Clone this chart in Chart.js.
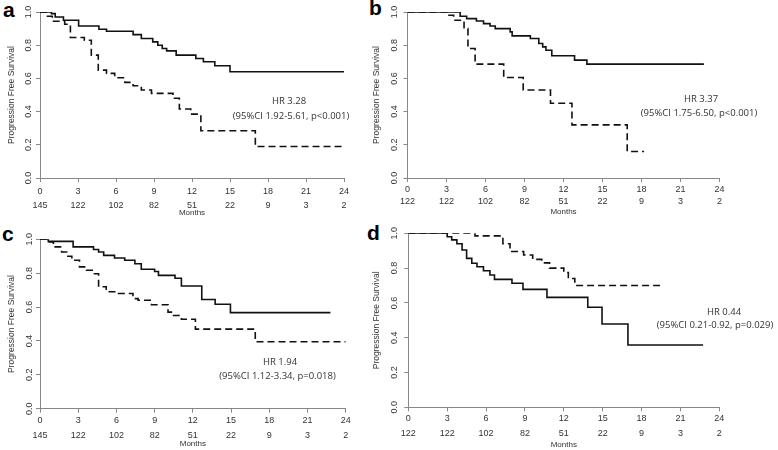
<!DOCTYPE html>
<html><head><meta charset="utf-8">
<script src="https://cdn.jsdelivr.net/npm/chart.js@4.4.1/dist/chart.umd.min.js"></script>
<style>
html,body{margin:0;padding:0;background:#fff;}
#wrap{position:relative;width:778px;height:450px;overflow:hidden;background:#fff;}
canvas{position:absolute;}
.lbl{position:absolute;font:bold 21px Arial,"Liberation Sans",sans-serif;color:#000;line-height:21px;}
</style></head><body>
<div id="wrap">
<div class="lbl" style="left:3px;top:-1px">a</div>
<div class="lbl" style="left:369px;top:-3px">b</div>
<div class="lbl" style="left:2px;top:223px">c</div>
<div class="lbl" style="left:367px;top:222px">d</div>
<canvas id="ca" width="389" height="225" style="left:0;top:0"></canvas>
<canvas id="cb" width="414" height="225" style="left:364px;top:0"></canvas>
<canvas id="cc" width="389" height="225" style="left:0;top:225px"></canvas>
<canvas id="cd" width="414" height="225" style="left:364px;top:225px"></canvas>
</div>
<script>
// ---- data ----
const monthTicks = [0,3,6,9,12,15,18,21,24];
const yTickValues = [0,0.2,0.4,0.6,0.8,1.0];
const yTickLabels = ['0.0','0.2','0.4','0.6','0.8','1.0'];
const atRiskAC = [145,122,102,82,51,22,9,3,2];
const atRiskBD = [122,122,102,82,51,22,9,3,2];
const yTitle = 'Progression Free Survival';
const xTitle = 'Months';

const aSolidT = [0,0.9,1.2,1.85,3.05,4.65,5.25,7.35,8.0,8.9,9.3,9.65,10.0,10.75,12.3,12.9,13.8,15.0,24];
const aSolidS = [1,0.99,0.97,0.95,0.916,0.896,0.884,0.864,0.84,0.82,0.80,0.78,0.766,0.74,0.72,0.70,0.676,0.64,0.64];
const aDashT = [0,0.5,0.97,1.95,2.4,3.5,4.05,4.6,5.25,5.9,6.7,7.35,8.0,8.8,10.5,11.0,11.9,12.7,17.0,24];
const aDashS = [1,0.974,0.944,0.926,0.846,0.83,0.74,0.65,0.63,0.604,0.576,0.556,0.53,0.51,0.48,0.416,0.385,0.285,0.19,0.19];

const bSolidT = [0,4.05,4.55,5.3,5.85,6.35,6.75,7.9,8.05,9.45,10.1,10.4,10.65,11.1,12.85,13.8,22.8];
const bSolidS = [1,0.974,0.96,0.946,0.93,0.916,0.90,0.88,0.856,0.84,0.81,0.79,0.77,0.736,0.71,0.686,0.686];
const bDashT = [0,3.1,3.55,4.35,4.65,5.2,7.4,8.9,11.0,12.65,16.9,18.2];
const bDashS = [1,0.98,0.95,0.90,0.78,0.686,0.605,0.53,0.45,0.32,0.16,0.16];

const cSolidT = [0,0.65,2.6,4.2,4.6,5.0,5.85,6.65,7.45,7.95,9.0,9.3,10.6,11.1,12.7,13.75,14.95,22.8];
const cSolidS = [1,0.988,0.955,0.94,0.925,0.905,0.89,0.876,0.856,0.823,0.81,0.787,0.77,0.724,0.645,0.617,0.567,0.567];
const cDashT = [0,0.65,1.05,1.7,2.1,2.5,3.1,3.65,4.2,4.6,5.2,6.1,7.3,7.7,8.75,10.05,10.4,11.1,12.2,16.9,24];
const cDashS = [1,0.985,0.955,0.925,0.90,0.876,0.837,0.817,0.797,0.72,0.69,0.68,0.65,0.64,0.614,0.57,0.55,0.528,0.47,0.395,0.395];

const dSolidT = [0,3.0,3.35,3.75,4.15,4.5,4.9,5.3,5.8,6.3,6.65,8.0,8.85,10.7,13.85,14.95,16.95,22.75];
const dSolidS = [1,0.98,0.962,0.94,0.904,0.856,0.828,0.808,0.785,0.76,0.735,0.713,0.678,0.632,0.575,0.479,0.358,0.358];
const dDashT = [0,5.15,7.3,7.85,8.9,9.6,10.3,10.9,12.0,12.35,12.85,19.6];
const dDashS = [1,0.985,0.94,0.895,0.875,0.85,0.83,0.80,0.775,0.74,0.70,0.70];

const hrA = ['HR 3.28','(95%CI 1.92-5.61, p<0.001)'];
const hrB = ['HR 3.37','(95%CI 1.75-6.50, p<0.001)'];
const hrC = ['HR 1.94','(95%CI 1.12-3.34, p=0.018)'];
const hrD = ['HR 0.44','(95%CI 0.21-0.92, p=0.029)'];

// ---- drawing ----
const hrPlugin = {
  id: 'hr',
  afterDraw(chart, args, o) {
    const ctx = chart.ctx;
    ctx.save();
    ctx.fillStyle = '#333';
    ctx.font = '9.5px "Open Sans", sans-serif';
    ctx.textAlign = 'center';
    ctx.textBaseline = 'middle';
    o.lines.forEach((t, i) => ctx.fillText(t, o.xs[i], o.ys[i]));
    ctx.restore();
  }
};

// rotated y tick labels (R style), placed through the y scale
const yLabPlugin = {
  id: 'ylab',
  afterDraw(chart, args, o) {
    const ctx = chart.ctx, ys = chart.scales.y;
    ctx.save();
    ctx.fillStyle = '#333';
    ctx.font = '9px Arial, "Liberation Sans", sans-serif';
    ctx.textAlign = 'center';
    ctx.textBaseline = 'middle';
    yTickValues.forEach((v, i) => {
      const py = ys.getPixelForValue(v);
      ctx.save();
      ctx.translate(ys.right - o.dx, py);
      ctx.rotate(-Math.PI / 2);
      ctx.fillText(yTickLabels[i], 0, 0);
      ctx.restore();
    });
    ctx.restore();
  }
};

function pts(T, S) { return T.map((t, i) => ({x: t, y: S[i]})); }

function panel(id, solid, dash, risk, hr, L) {
  new Chart(document.getElementById(id), {
    type: 'line',
    data: { datasets: [
      { data: solid, borderColor: '#111', borderWidth: 1.6, stepped: true, pointRadius: 0, fill: false },
      { data: dash, borderColor: '#111', borderWidth: 1.6, borderDash: [7,4], stepped: true, pointRadius: 0, fill: false }
    ]},
    plugins: [hrPlugin, yLabPlugin],
    options: {
      responsive: false, animation: false, devicePixelRatio: 1,
      layout: { padding: { left: 0, right: L.pr, top: L.pt, bottom: 0 } },
      plugins: { legend: { display: false }, tooltip: { enabled: false },
        hr: { lines: hr, xs: L.hx, ys: L.hy }, ylab: { dx: L.ylx } },
      scales: {
        x: {
          type: 'linear', min: 0, max: 24,
          afterFit: s => { s.height = L.xh; s.paddingLeft = 0; s.paddingRight = 0; },
          afterBuildTicks: s => { s.ticks = monthTicks.map(v => ({value: v})); },
          ticks: { autoSkip: false, maxRotation: 0, minRotation: 0, padding: L.xtp, color: '#333',
            font: { family: 'Arial', size: 9, lineHeight: L.xlh },
            callback: (v, i) => [String(monthTicks[i]), String(risk[i])] },
          grid: { drawOnChartArea: false, drawTicks: true, tickLength: 4, color: '#888' },
          border: { display: true, color: '#888', width: 1 },
          title: { display: true, text: xTitle, color: '#333', font: { family: 'Arial', size: 8 },
            padding: { top: 0, bottom: L.xtb } }
        },
        y: {
          type: 'linear', min: 0, max: 1,
          afterFit: s => { s.width = L.yw; s.paddingTop = 0; s.paddingBottom = 0; },
          afterBuildTicks: s => { s.ticks = yTickValues.map(v => ({value: v})); },
          ticks: { display: false },
          grid: { drawOnChartArea: false, drawTicks: true, tickLength: 4, color: '#888' },
          border: { display: true, color: '#888', width: 1 },
          title: { display: true, text: yTitle, color: '#333', font: { family: 'Arial', size: 8.5 },
            padding: { top: L.ytt, bottom: 0 } }
        }
      }
    }
  });
}

panel('ca', pts(aSolidT, aSolidS), pts(aDashT, aDashS), atRiskAC, hrA,
  { pr: 45, pt: 12, xh: 47, xlh: 13.3/9, xtp: 3.3, xtb: 7.5, yw: 40, ylx: 11, ytt: 7, hx: [289, 291], hy: [101, 116] });
panel('cb', pts(bSolidT, bSolidS), pts(bDashT, bDashS), atRiskBD, hrB,
  { pr: 58.5, pt: 12, xh: 47, xlh: 12/9, xtp: 2, xtb: 8.2, yw: 43.5, ylx: 12.8, ytt: 7.9, hx: [337, 335], hy: [99, 113] });
panel('cc', pts(cSolidT, cSolidS), pts(cDashT, cDashS), atRiskAC, hrC,
  { pr: 43.3, pt: 14.3, xh: 41.3, xlh: 15/9, xtp: 0, xtb: 1.2, yw: 40, ylx: 10, ytt: 6.6, hx: [280, 277.5], hy: [137, 151] });
panel('cd', pts(dSolidT, dSolidS), pts(dDashT, dDashS), atRiskBD, hrD,
  { pr: 58.7, pt: 8.3, xh: 42.7, xlh: 15/9, xtp: 0, xtb: 0.2, yw: 44.3, ylx: 13.6, ytt: 7.6, hx: [360, 351], hy: [87, 100] });
</script>
</body></html>
